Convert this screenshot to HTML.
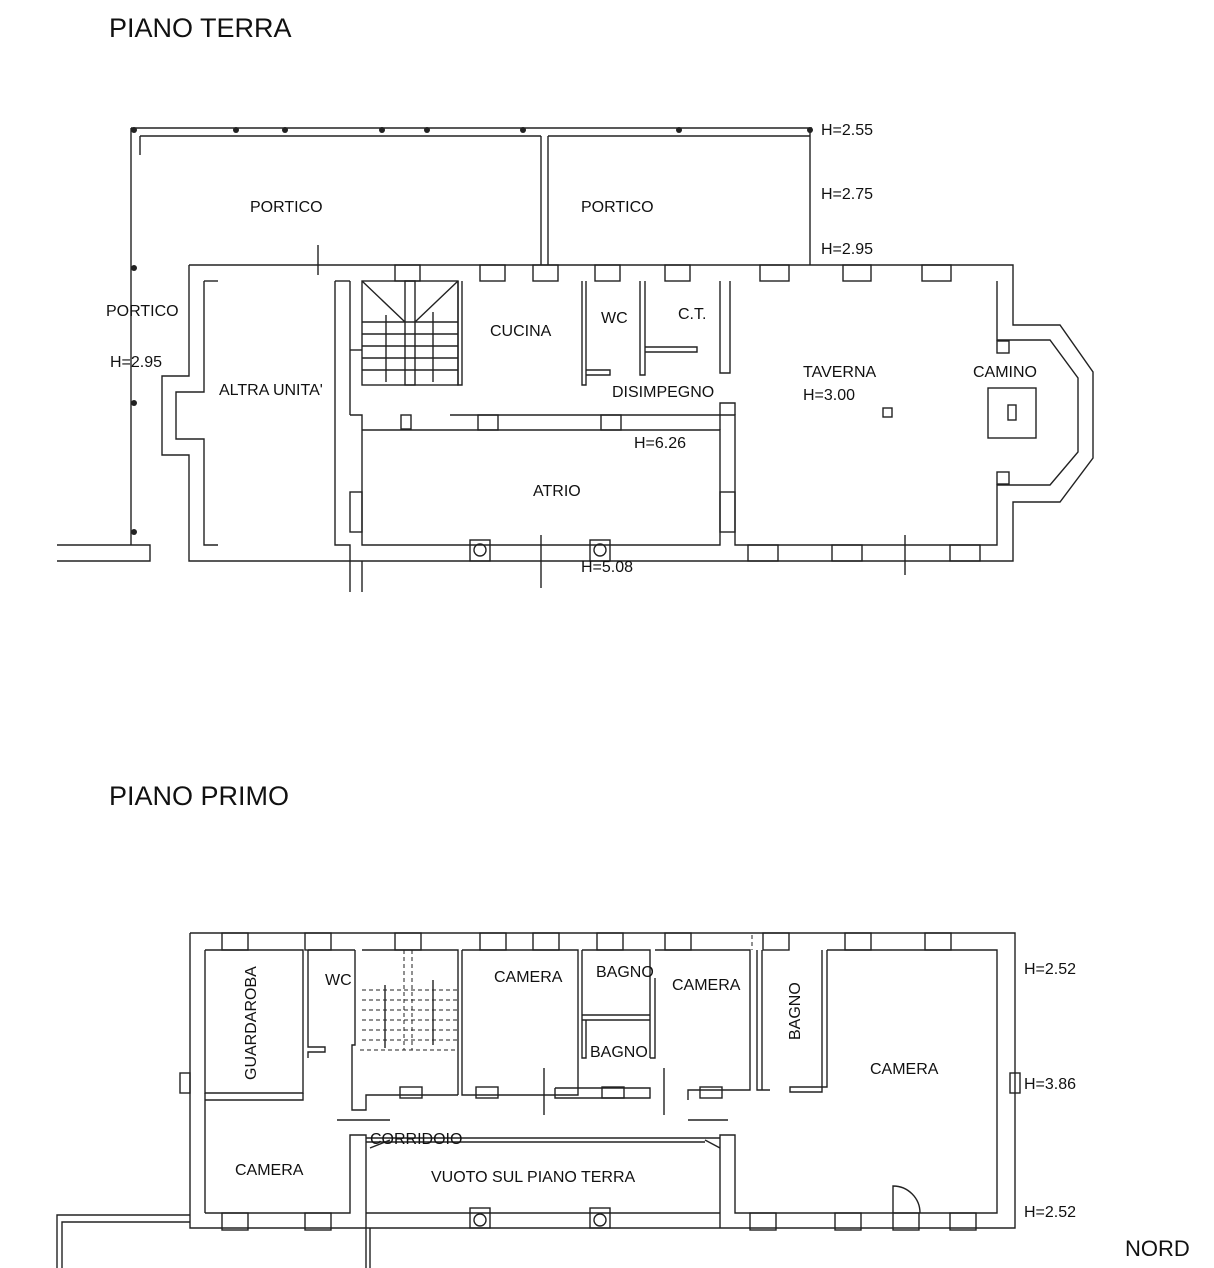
<!DOCTYPE html>
<html><head><meta charset="utf-8"><style>
html,body{margin:0;padding:0;background:#fff}
svg{display:block}
text{font-family:"Liberation Sans",Arial,sans-serif;fill:#111}
</style></head><body>
<svg width="1214" height="1268" viewBox="0 0 1214 1268" xmlns="http://www.w3.org/2000/svg">
<g fill="none" stroke="#222" stroke-width="1.4">
<line x1="131" y1="128" x2="812" y2="128"/>
<line x1="140" y1="136" x2="541" y2="136"/>
<line x1="548" y1="136" x2="810" y2="136"/>
<line x1="140" y1="136" x2="140" y2="155"/>
<line x1="541" y1="136" x2="541" y2="265"/>
<line x1="548" y1="136" x2="548" y2="265"/>
<line x1="810" y1="128" x2="810" y2="265"/>
<line x1="131" y1="128" x2="131" y2="545"/>
<polyline points="57,545 150,545 150,561 57,561"/>
<line x1="318" y1="245" x2="318" y2="275"/>
<polyline points="189,265 1013,265 1013,325 1060,325 1093,372 1093,458 1060,502 1013,502 1013,561 735,561"/>
<polyline points="997,281 997,340 1050,340 1078,378 1078,452 1050,485 997,485 997,545 735,545 735,430"/>
<polyline points="189,265 189,376 162,376 162,455 189,455 189,561 350,561"/>
<polyline points="204,281 218,281"/>
<polyline points="204,281 204,392 176,392 176,439 204,439 204,545 218,545"/>
<line x1="335" y1="281" x2="350" y2="281"/>
<polyline points="335,281 335,545 350,545 350,561"/>
<polyline points="350,281 350,415"/>
<polyline points="350,415 362,415 362,545 720,545 720,430 362,430"/>
<line x1="350" y1="561" x2="735" y2="561"/>
<line x1="350" y1="561" x2="350" y2="592"/>
<line x1="362" y1="561" x2="362" y2="592"/>
<line x1="541" y1="535" x2="541" y2="588"/>
<line x1="905" y1="535" x2="905" y2="575"/>
<polyline points="450,415 735,415 735,430"/>
<polyline points="720,430 720,403 735,403 735,415"/>
<rect x="401" y="415" width="10" height="14"/>
<rect x="362" y="281" width="96" height="104"/>
<line x1="362" y1="281" x2="405" y2="322"/><line x1="458" y1="281" x2="415" y2="322"/>
<rect x="405" y="281" width="10" height="104"/>
<line x1="362" y1="322" x2="458" y2="322"/><line x1="362" y1="334" x2="458" y2="334"/>
<line x1="362" y1="346" x2="458" y2="346"/><line x1="362" y1="358" x2="458" y2="358"/>
<line x1="362" y1="370" x2="458" y2="370"/>
<line x1="386" y1="315" x2="386" y2="382"/><line x1="433" y1="312" x2="433" y2="382"/>
<polyline points="458,281 458,385 462,385 462,281"/>
<polyline points="582,281 582,385 586,385 586,281"/>
<polyline points="586,375 610,375 610,370 586,370"/>
<polyline points="640,281 640,375 645,375 645,281"/>
<polyline points="645,352 697,352 697,347 645,347"/>
<polyline points="720,281 720,373 730,373 730,281"/>
<rect x="395" y="265" width="25" height="16"/><rect x="480" y="265" width="25" height="16"/>
<rect x="533" y="265" width="25" height="16"/><rect x="595" y="265" width="25" height="16"/>
<rect x="665" y="265" width="25" height="16"/><rect x="760" y="265" width="29" height="16"/>
<rect x="843" y="265" width="28" height="16"/><rect x="922" y="265" width="29" height="16"/>
<rect x="478" y="415" width="20" height="15"/><rect x="601" y="415" width="20" height="15"/>
<rect x="748" y="545" width="30" height="16"/><rect x="832" y="545" width="30" height="16"/>
<rect x="950" y="545" width="30" height="16"/>
<rect x="350" y="492" width="12" height="40"/><rect x="720" y="492" width="15" height="40"/>
<rect x="997" y="341" width="12" height="12"/><rect x="997" y="472" width="12" height="12"/>
<rect x="470" y="540" width="20" height="21"/><circle cx="480" cy="550" r="6"/>
<rect x="590" y="540" width="20" height="21"/><circle cx="600" cy="550" r="6"/>
<rect x="883" y="408" width="9" height="9"/>
<rect x="988" y="388" width="48" height="50"/><rect x="1008" y="405" width="8" height="15"/>
<g fill="#222" stroke="none">
<circle cx="134" cy="130" r="3"/><circle cx="236" cy="130" r="3"/><circle cx="285" cy="130" r="3"/>
<circle cx="382" cy="130" r="3"/><circle cx="427" cy="130" r="3"/><circle cx="523" cy="130" r="3"/>
<circle cx="679" cy="130" r="3"/><circle cx="810" cy="130" r="3"/>
<circle cx="134" cy="268" r="3"/><circle cx="134" cy="403" r="3"/><circle cx="134" cy="532" r="3"/>
</g>

<polyline points="190,933 1015,933 1015,1228 190,1228 190,933"/>
<polyline points="205,950 303,950 303,1093 205,1093 205,950"/>
<polyline points="205,1100 303,1100 303,1093"/>
<line x1="205" y1="1093" x2="205" y2="1213"/>
<polyline points="308,950 355,950"/>
<polyline points="308,950 308,1047 325,1047 325,1052 308,1052 308,1058"/>
<polyline points="355,950 355,1045 352,1045 352,1110 366,1110 366,1095 458,1095"/>
<polyline points="362,950 458,950 458,1095"/>
<polyline points="462,950 578,950 578,1095 462,1095 462,950"/>
<polyline points="582,950 650,950 650,1058"/>
<line x1="582" y1="1015" x2="650" y2="1015"/><line x1="582" y1="1020" x2="650" y2="1020"/>
<polyline points="582,950 582,1058 586,1058 586,1020"/>
<polyline points="650,1058 655,1058 655,978"/>
<polyline points="555,1088 650,1088 650,1098 555,1098 555,1088"/>
<polyline points="655,950 750,950 750,1090 688,1090 688,1100"/>
<polyline points="757,950 757,1090 770,1090"/>
<polyline points="762,950 762,1090"/>
<polyline points="822,950 822,1092 790,1092 790,1087 827,1087 827,950"/>
<polyline points="827,950 997,950 997,1213 735,1213 735,1135 720,1135 720,1228"/>
<polyline points="205,1213 350,1213 350,1135 366,1135 366,1228"/>
<polyline points="366,1138 720,1138"/>
<line x1="366" y1="1142" x2="705" y2="1142"/>
<line x1="705" y1="1140" x2="720" y2="1148"/>
<line x1="370" y1="1148" x2="390" y2="1140"/>
<line x1="366" y1="1213" x2="720" y2="1213"/>
<line x1="337" y1="1120" x2="390" y2="1120"/>
<line x1="688" y1="1120" x2="728" y2="1120"/>
<line x1="544" y1="1068" x2="544" y2="1115"/>
<line x1="664" y1="1068" x2="664" y2="1115"/>
<line x1="366" y1="1228" x2="366" y2="1268"/><line x1="370" y1="1228" x2="370" y2="1268"/>
<polyline points="57,1268 57,1215 190,1215"/>
<polyline points="62,1268 62,1222 190,1222"/>
<g stroke-dasharray="4,3" stroke-width="1">
<line x1="362" y1="990" x2="458" y2="990"/><line x1="362" y1="1000" x2="458" y2="1000"/>
<line x1="362" y1="1010" x2="458" y2="1010"/><line x1="362" y1="1020" x2="458" y2="1020"/>
<line x1="362" y1="1030" x2="458" y2="1030"/><line x1="362" y1="1040" x2="458" y2="1040"/>
<line x1="360" y1="1050" x2="458" y2="1050"/>
<line x1="404" y1="950" x2="404" y2="1050"/><line x1="412" y1="950" x2="412" y2="1050"/>
<line x1="752" y1="935" x2="752" y2="950"/>
</g>
<line x1="385" y1="985" x2="385" y2="1048"/><line x1="433" y1="980" x2="433" y2="1045"/>
<rect x="222" y="933" width="26" height="17"/><rect x="305" y="933" width="26" height="17"/>
<rect x="395" y="933" width="26" height="17"/><rect x="480" y="933" width="26" height="17"/>
<rect x="533" y="933" width="26" height="17"/><rect x="597" y="933" width="26" height="17"/>
<rect x="665" y="933" width="26" height="17"/><rect x="763" y="933" width="26" height="17"/>
<rect x="845" y="933" width="26" height="17"/><rect x="925" y="933" width="26" height="17"/>
<rect x="222" y="1213" width="26" height="17"/><rect x="305" y="1213" width="26" height="17"/>
<rect x="750" y="1213" width="26" height="17"/><rect x="835" y="1213" width="26" height="17"/>
<rect x="893" y="1213" width="26" height="17"/><rect x="950" y="1213" width="26" height="17"/>
<rect x="476" y="1087" width="22" height="11"/><rect x="602" y="1087" width="22" height="11"/>
<rect x="400" y="1087" width="22" height="11"/><rect x="700" y="1087" width="22" height="11"/>
<rect x="180" y="1073" width="10" height="20"/><rect x="1010" y="1073" width="10" height="20"/>
<rect x="470" y="1208" width="20" height="20"/><circle cx="480" cy="1220" r="6"/>
<rect x="590" y="1208" width="20" height="20"/><circle cx="600" cy="1220" r="6"/>
<path d="M893,1213 L893,1186 A27,27 0 0 1 920,1213"/>
</g>

<g font-size="27">
<text x="109" y="37">PIANO TERRA</text>
<text x="109" y="805">PIANO PRIMO</text>
<text x="1125" y="1256" font-size="22">NORD</text>
</g>
<g font-size="16">
<text x="250" y="212">PORTICO</text>
<text x="581" y="212">PORTICO</text>
<text x="106" y="316">PORTICO</text>
<text x="110" y="367">H=2.95</text>
<text x="219" y="395">ALTRA UNITA'</text>
<text x="490" y="336">CUCINA</text>
<text x="601" y="323">WC</text>
<text x="678" y="319">C.T.</text>
<text x="612" y="397">DISIMPEGNO</text>
<text x="634" y="448">H=6.26</text>
<text x="533" y="496">ATRIO</text>
<text x="581" y="572">H=5.08</text>
<text x="803" y="377">TAVERNA</text>
<text x="803" y="400">H=3.00</text>
<text x="973" y="377">CAMINO</text>
<text x="821" y="135">H=2.55</text>
<text x="821" y="199">H=2.75</text>
<text x="821" y="254">H=2.95</text>
<text x="325" y="985">WC</text>
<text x="494" y="982">CAMERA</text>
<text x="596" y="977">BAGNO</text>
<text x="590" y="1057">BAGNO</text>
<text x="672" y="990">CAMERA</text>
<text x="870" y="1074">CAMERA</text>
<text x="235" y="1175">CAMERA</text>
<text x="370" y="1144">CORRIDOIO</text>
<text x="431" y="1182">VUOTO SUL PIANO TERRA</text>
<text x="1024" y="974">H=2.52</text>
<text x="1024" y="1089">H=3.86</text>
<text x="1024" y="1217">H=2.52</text>
<text transform="translate(256,1080) rotate(-90)">GUARDAROBA</text>
<text transform="translate(800,1040) rotate(-90)">BAGNO</text>
</g>
<line x1="350" y1="350" x2="362" y2="350" stroke="#222" stroke-width="1.4"/>
</svg>
</body></html>
